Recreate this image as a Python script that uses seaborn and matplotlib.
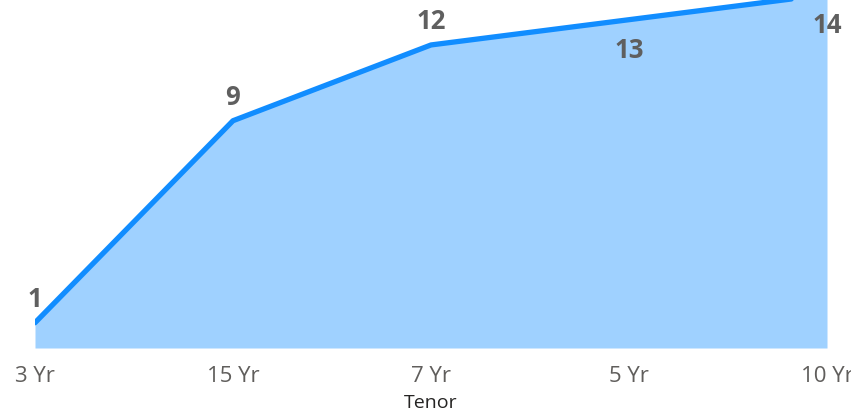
import matplotlib
matplotlib.use("Agg")
import matplotlib.pyplot as plt
import seaborn as sns
import pandas as pd

categories = ["3 Yr", "15 Yr", "7 Yr", "5 Yr", "10 Yr"]
values = [1, 9, 12, 13, 14]
label_below = [False, False, False, True, True]

sns.set_theme(style="white")
plt.rcParams['font.family'] = ['Open Sans', 'DejaVu Sans']

df = pd.DataFrame({"Tenor": categories, "Value": values})
df["pos"] = range(len(df))

fig = plt.figure(figsize=(8.51, 4.12), dpi=100)
ax = fig.add_axes([35/851, 64/412, (827-35)/851, 348/412])

ax.fill_between(df["pos"], 0, df["Value"], color="#9fd1ff", linewidth=0, zorder=1)
sns.lineplot(data=df, x="pos", y="Value", ax=ax, color="#118dff", linewidth=3.8,
             solid_capstyle="round", zorder=2)

for p, v, below in zip(df["pos"], df["Value"], label_below):
    off = -31 if below else 23
    ax.annotate(str(v), xy=(p, v), xytext=(0, off * 0.72), textcoords="offset points",
                ha="center", va="center", fontsize=18.5, fontweight="bold",
                color="#5f5f5f", annotation_clip=False, zorder=3)

ax.set_xlim(0, len(categories) - 1)
ax.set_ylim(0, 13.78)
ax.set_xticks(df["pos"])
ax.set_xticklabels(categories, fontsize=16, color="#605e5c")
ax.tick_params(axis="x", length=0, pad=13)
ax.set_yticks([])
ax.set_xlabel("Tenor", fontsize=14, color="#252423", labelpad=5)
ax.set_ylabel("")
for s in ax.spines.values():
    s.set_visible(False)

fig.savefig("out.png", dpi=100)
